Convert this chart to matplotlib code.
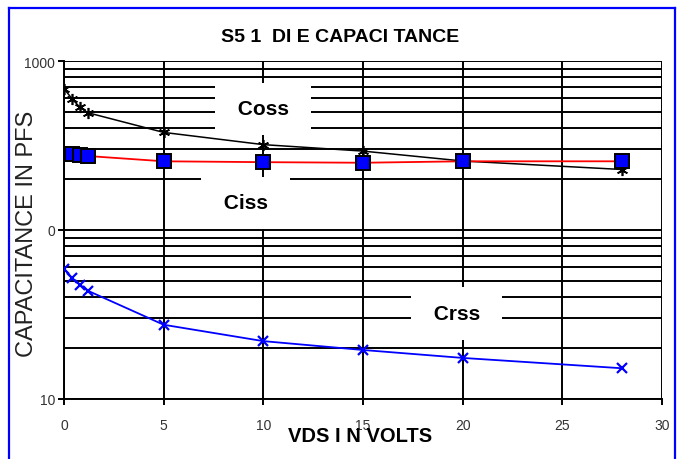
import matplotlib.pyplot as plt
from matplotlib.lines import Line2D
import numpy as np

plt.rcParams['font.family'] = ['Liberation Sans', 'DejaVu Sans']

# VDS points (volts)
vds = [0, 0.4, 0.8, 1.2, 5, 10, 15, 20, 28]

# capacitance readings (pF)
coss = [686, 598, 532, 494, 378, 320, 293, 256, 228]
ciss = [282, 280, 278, 274, 255, 252, 250, 255, 255]
crss = [59, 52, 47.4, 43.7, 27.5, 22, 19.5, 17.5, 15.2]

x_ticks = [0, 5, 10, 15, 20, 25, 30]
y_ticks = [10, 100, 1000]
y_tick_labels = ['10', '0', '1000']

fig = plt.figure(figsize=(6.83, 4.60), dpi=100)
ax = fig.add_axes([64 / 683, 60 / 460, 598 / 683, 338 / 460])

ax.set_yscale('log')
ax.set_xlim(0, 30)
ax.set_ylim(10, 1000)

# grid: every log minor line and every 5 volts
ax.grid(True, which='both', axis='y', color='black', linewidth=1.4, zorder=1)
ax.grid(True, which='major', axis='x', color='black', linewidth=1.4, zorder=1)
ax.set_axisbelow(True)

for s in ['top', 'right']:
    ax.spines[s].set_visible(False)
for s in ['left', 'bottom']:
    ax.spines[s].set_linewidth(1.4)

ax.set_xticks(x_ticks)
ax.set_xticklabels([str(t) for t in x_ticks])
ax.set_yticks(y_ticks)
ax.set_yticklabels(y_tick_labels)
ax.tick_params(axis='both', which='major', length=4.5, width=1.4,
               labelsize=10, labelcolor='#333333')
ax.tick_params(axis='x', pad=9)
ax.tick_params(axis='y', pad=2)
ax.tick_params(axis='y', which='minor', length=0)

# curves
ax.plot(vds, coss, color='black', linewidth=1.1, marker=(6, 2, 0),
        markersize=8, markeredgewidth=1.2, zorder=5)
ax.plot(vds, ciss, color='red', linewidth=1.3, marker='s', markersize=10,
        markerfacecolor='blue', markeredgecolor='black', markeredgewidth=1.4,
        zorder=6)
ax.plot(vds, crss, color='blue', linewidth=1.3, marker='x', markersize=7,
        markeredgewidth=1.6, zorder=5)

# curve names on white boxes
box = dict(boxstyle='square,pad=0.8', facecolor='white', edgecolor='none')
ax.text(10, 520, ' Coss ', fontsize=15, fontweight='bold', ha='center',
        va='center', bbox=box, zorder=3)
ax.text(9.1, 145, ' Ciss ', fontsize=15, fontweight='bold', ha='center',
        va='center', bbox=box, zorder=3)
ax.text(19.7, 32, ' Crss ', fontsize=15, fontweight='bold', ha='center',
        va='center', bbox=box, zorder=3)

fig.text(340 / 683, 1 - 37 / 460, 'S5 1  DI E CAPACI TANCE', fontsize=14,
         fontweight='bold', ha='center', va='center')
fig.text(360 / 683, 1 - 437 / 460, 'VDS I N VOLTS', fontsize=14.5,
         fontweight='bold', ha='center', va='center')
fig.text(27 / 683, 1 - 234 / 460, 'CAPACITANCE IN PFS', fontsize=17,
         color='#222222', rotation=90, ha='center', va='center')

# blue frame around the chart
fig.add_artist(Line2D([9 / 683, 9 / 683], [0, 1 - 9 / 460], color='blue',
                      linewidth=1.6, transform=fig.transFigure))
fig.add_artist(Line2D([9 / 683, 675 / 683], [1 - 9 / 460, 1 - 9 / 460],
                      color='blue', linewidth=1.6, transform=fig.transFigure))
fig.add_artist(Line2D([675 / 683, 675 / 683], [0, 1 - 9 / 460], color='blue',
                      linewidth=1.6, transform=fig.transFigure))

fig.savefig('out.png', dpi=100)
